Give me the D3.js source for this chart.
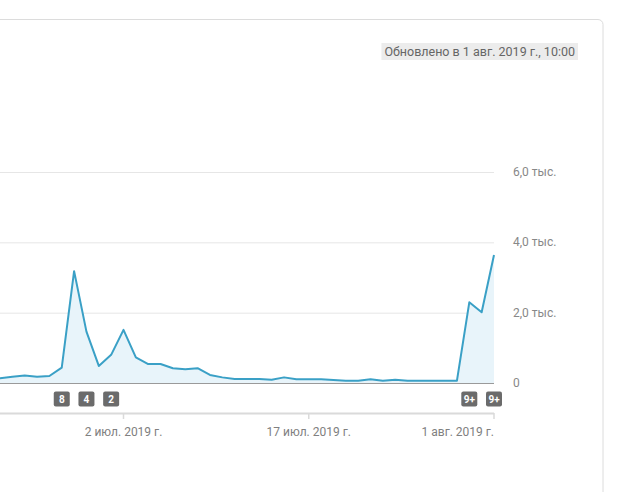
<!DOCTYPE html>
<html><head><meta charset="utf-8">
<script src="https://cdn.jsdelivr.net/npm/d3@7"></script>
<style>
html,body{margin:0;padding:0;background:#fff;}
svg{display:block;font-family:Roboto,"Noto Sans",sans-serif;}
</style></head>
<body><svg id="c" width="622" height="492"></svg>
<script>
const dates = ["2019-06-21","2019-06-22","2019-06-23","2019-06-24","2019-06-25","2019-06-26","2019-06-27","2019-06-28","2019-06-29","2019-06-30",
"2019-07-01","2019-07-02","2019-07-03","2019-07-04","2019-07-05","2019-07-06","2019-07-07","2019-07-08","2019-07-09","2019-07-10",
"2019-07-11","2019-07-12","2019-07-13","2019-07-14","2019-07-15","2019-07-16","2019-07-17","2019-07-18","2019-07-19","2019-07-20",
"2019-07-21","2019-07-22","2019-07-23","2019-07-24","2019-07-25","2019-07-26","2019-07-27","2019-07-28","2019-07-29","2019-07-30",
"2019-07-31","2019-08-01"];
const views = [120,134,180,210,180,200,435,3180,1460,485,
800,1510,730,540,540,420,390,420,230,160,
115,115,115,90,160,105,105,105,85,65,
65,105,65,95,65,65,65,65,65,2295,
2010,3640];
const yTicks = [0,2000,4000,6000];
const yTickLabels = ["0","2,0 тыс.","4,0 тыс.","6,0 тыс."];
const xTickDates = ["2019-07-02","2019-07-17","2019-08-01"];
const xTickLabels = ["2 июл. 2019 г.","17 июл. 2019 г.","1 авг. 2019 г."];
const badgeDates = ["2019-06-27","2019-06-29","2019-07-01","2019-07-30","2019-08-01"];
const badgeLabels = ["8","4","2","9+","9+"];
const updatedText = "Обновлено в 1 авг. 2019 г., 10:00";

const parse = d3.utcParse("%Y-%m-%d");
const data = dates.map((d,i)=>({date:parse(d), v:views[i]}));
const svg = d3.select("#c");

// card
svg.append("rect").attr("x",-20).attr("y",19.5).attr("width",623).attr("height",520)
  .attr("rx",5).attr("fill","#fff").attr("stroke","#dcdcdc");

const x = d3.scaleUtc().domain([parse("2019-06-22"), parse("2019-08-01")]).range([0,494]);
const y = d3.scaleLinear().domain([0,6000]).range([383,172]);

// gridlines
svg.append("g").selectAll("line").data(yTicks.slice(1)).join("line")
  .attr("x1",-20).attr("x2",494).attr("y1",d=>y(d)+0.5).attr("y2",d=>y(d)+0.5)
  .attr("stroke","#e6e6e6");

// area & line
const area = d3.area().x(d=>x(d.date)).y0(y(0)).y1(d=>y(d.v));
svg.append("path").datum(data).attr("d",area).attr("fill","#e8f4fa");
const line = d3.line().x(d=>x(d.date)).y(d=>y(d.v));
svg.append("path").datum(data).attr("d",line).attr("fill","none")
  .attr("stroke","#3aa0c6").attr("stroke-width",2).attr("stroke-linejoin","round");

// baseline
svg.append("line").attr("x1",-20).attr("x2",494).attr("y1",y(0)+0.5).attr("y2",y(0)+0.5)
  .attr("stroke","#9a9a9a");

// y labels
svg.append("g").selectAll("text").data(yTicks).join("text")
  .attr("x",513).attr("y",d=>y(d)+4).attr("font-size",12).attr("fill","#888")
  .text((d,i)=>yTickLabels[i]);

// badges
const bg = svg.append("g").selectAll("g").data(badgeDates).join("g")
  .attr("transform",d=>`translate(${x(parse(d))},399)`);
bg.append("rect").attr("x",-8).attr("y",-7.5).attr("width",16).attr("height",15).attr("rx",2).attr("fill","#6b6b6b");
bg.append("text").attr("text-anchor","middle").attr("y",4).attr("font-size",10).attr("font-weight","bold")
  .attr("fill","#fff").text((d,i)=>badgeLabels[i]);

// x axis
const xa = svg.append("g");
xa.append("line").attr("x1",-20).attr("x2",494).attr("y1",413.5).attr("y2",413.5).attr("stroke","#dadada").attr("stroke-width",2);
xa.selectAll("line.t").data(xTickDates).join("line").attr("class","t")
  .attr("x1",d=>x(parse(d))).attr("x2",d=>x(parse(d))).attr("y1",413).attr("y2",419)
  .attr("stroke","#dadada").attr("stroke-width",1.5);
xa.selectAll("text").data(xTickDates).join("text")
  .attr("x",d=>x(parse(d))).attr("y",436)
  .attr("text-anchor",(d,i)=>i===xTickDates.length-1?"end":"middle")
  .attr("font-size",12).attr("fill","#808080").text((d,i)=>xTickLabels[i]);

// updated label
const ug = svg.append("g");
const ubg = ug.append("rect").attr("fill","#ececec");
const ut = ug.append("text").attr("x",575).attr("y",56).attr("text-anchor","end")
  .attr("font-size",12.5).attr("fill","#666").text(updatedText);
const bb = ut.node().getBBox();
ubg.attr("x",bb.x-3).attr("y",43).attr("width",bb.width+6).attr("height",17);
</script></body></html>
